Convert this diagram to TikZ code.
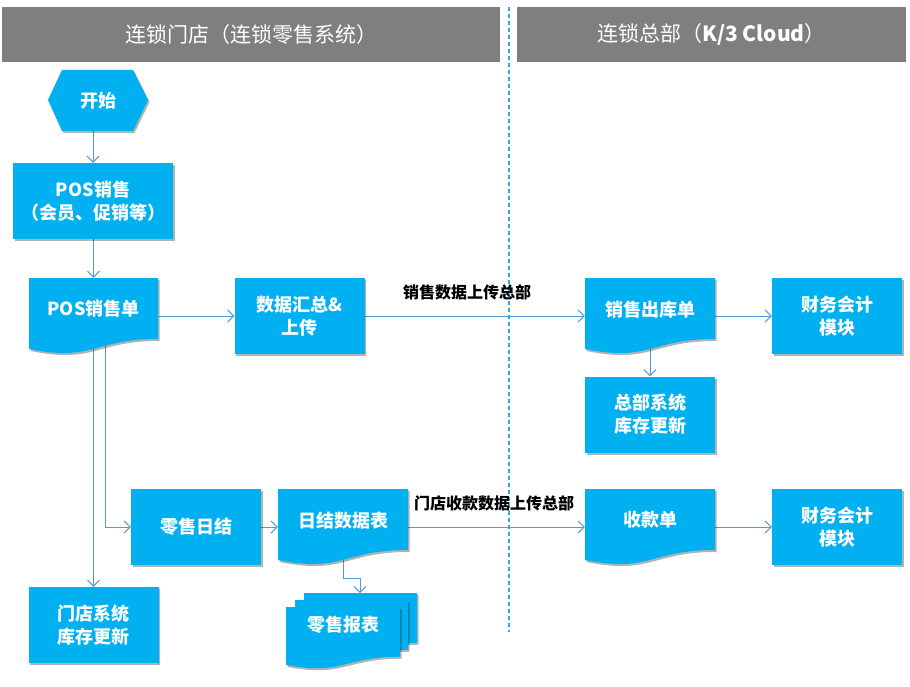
\documentclass[tikz,border=0pt]{standalone}
\usepackage{fontspec}
\setmainfont{Noto Sans CJK SC}
\usetikzlibrary{arrows.meta,shadows,calc,backgrounds}
\definecolor{nodeblue}{RGB}{0,176,240}
\definecolor{linkblue}{RGB}{79,157,214}
\definecolor{dashc}{RGB}{50,170,205}
\definecolor{headgray}{RGB}{127,127,127}
\tikzset{
 shd/.style={drop shadow={shadow xshift=1.5pt,shadow yshift=-2pt,opacity=0.3,fill=black}},
 box/.style={fill=nodeblue, shd, text=white, font=\bfseries\fontsize{18}{23}\selectfont, align=center, inner sep=0pt, minimum width=130pt, minimum height=76pt},
 frame/.style={inner sep=0pt, minimum width=130pt, minimum height=76pt},
 docfill/.style={fill=nodeblue, shd},
 doctext/.style={text=white, font=\bfseries\fontsize{18}{23}\selectfont, align=center, inner sep=0pt},
 link/.style={draw=linkblue, line width=1pt, -{Straight Barb[length=6pt,width=12pt]}},
 lab/.style={font=\bfseries\fontsize{16}{18}\selectfont, text=black, inner sep=0pt},
 head/.style={fill=headgray, text=white, font=\fontsize{21}{24}\selectfont, inner sep=0pt, minimum height=55pt},
}
\newcommand{\docshape}[4]{\fill[docfill] (#1,#2) -- (#3,#2) -- (#3,{#2+0.802*(#4-#2)}) .. controls ({(#1+#3)/2},{#2+0.802*(#4-#2)}) and ({(#1+#3)/2},{#2+1.1075*(#4-#2)}) .. (#1,{#2+0.934*(#4-#2)}) -- cycle;}
\begin{document}
\begin{tikzpicture}[x=1pt,y=-1pt]
\useasboundingbox (0,0) rectangle (910,687);
% headers
\node[head, minimum width=498pt] (h1) at (251,34.5) {连锁门店（连锁零售系统）};
\node[head, minimum width=389pt] (h2) at (711.5,34.5) {连锁总部（\textbf{K/3 Cloud}）};
\draw[dashc, line width=1.1pt, dash pattern=on 4pt off 3pt] (509,7) -- (509,632);

% start hexagon
\fill[docfill] (48,100) -- (62,70) -- (133,70) -- (148,100) -- (133,131) -- (62,131) -- cycle;
\node[doctext, minimum width=100pt, minimum height=61pt] (start) at (98,100.5) {开始};

% boxes
\node[box, minimum width=160pt] (possale) at (93,201) {POS销售\\（会员、促销等）};
\node[box] (sum) at (299.5,316) {数据汇总\&\\上传};
\node[box] (fin1) at (837,316) {财务会计\\模块};
\node[box] (hqinv) at (650,414.5) {总部系统\\库存更新};
\node[box] (close) at (196,527) {零售日结};
\node[box] (fin2) at (837,527) {财务会计\\模块};
\node[box] (storeinv) at (93.5,625) {门店系统\\库存更新};

% documents
\docshape{29}{278}{158}{354}
\node[frame] (posdoc) at (93.5,316) {};
\node[doctext] (posdoc-t) at (93.5,309) {POS销售单};

\docshape{585}{278}{715}{354}
\node[frame] (outdoc) at (650,316) {};
\node[doctext] (outdoc-t) at (650,310) {销售出库单};

\docshape{278}{489}{408}{565}
\node[frame] (daily) at (343,527) {};
\node[doctext] (daily-t) at (343,521) {日结数据表};

\docshape{585}{489}{715}{565}
\node[frame] (recv) at (650,527) {};
\node[doctext] (recv-t) at (650,520) {收款单};

% multidocument
\docshape{304}{593}{417}{655}
\docshape{295}{600}{408}{662}
\docshape{286}{607}{400}{669}
\node[inner sep=0pt, minimum width=131pt, minimum height=75pt] (report) at (351.5,630.5) {};
\node[doctext] (report-t) at (343,625) {零售报表};

% labels
\node[lab] (lab1) at (467,292) {销售数据上传总部};
\node[lab] (lab2) at (494,503) {门店收款数据上传总部};

\coordinate (pd2) at (105,316);
\coordinate (rbend) at (343,578);
\coordinate (rtop) at (360,593);

\begin{scope}[on background layer]
\draw[link] (start.south -| possale.north) -- (possale.north);
\draw[link] (possale.south -| posdoc.north) -- (posdoc.north);
\draw[link] (posdoc.east) -- (sum.west);
\draw[link] (sum.east) -- (outdoc.west);
\draw[link] (outdoc.east) -- (fin1.west);
\draw[link] (outdoc.center) -- (hqinv.north);
\draw[link] (posdoc.center) -- (storeinv.north);
\draw[link] (pd2) |- (close.west);
\draw[link] (close.east) -- (daily.west);
\draw[link] (daily.east) -- (recv.west);
\draw[link] (recv.east) -- (fin2.west);
\draw[link] (daily.center) -- (rbend) -| (rtop);
\end{scope}
\end{tikzpicture}
\end{document}
